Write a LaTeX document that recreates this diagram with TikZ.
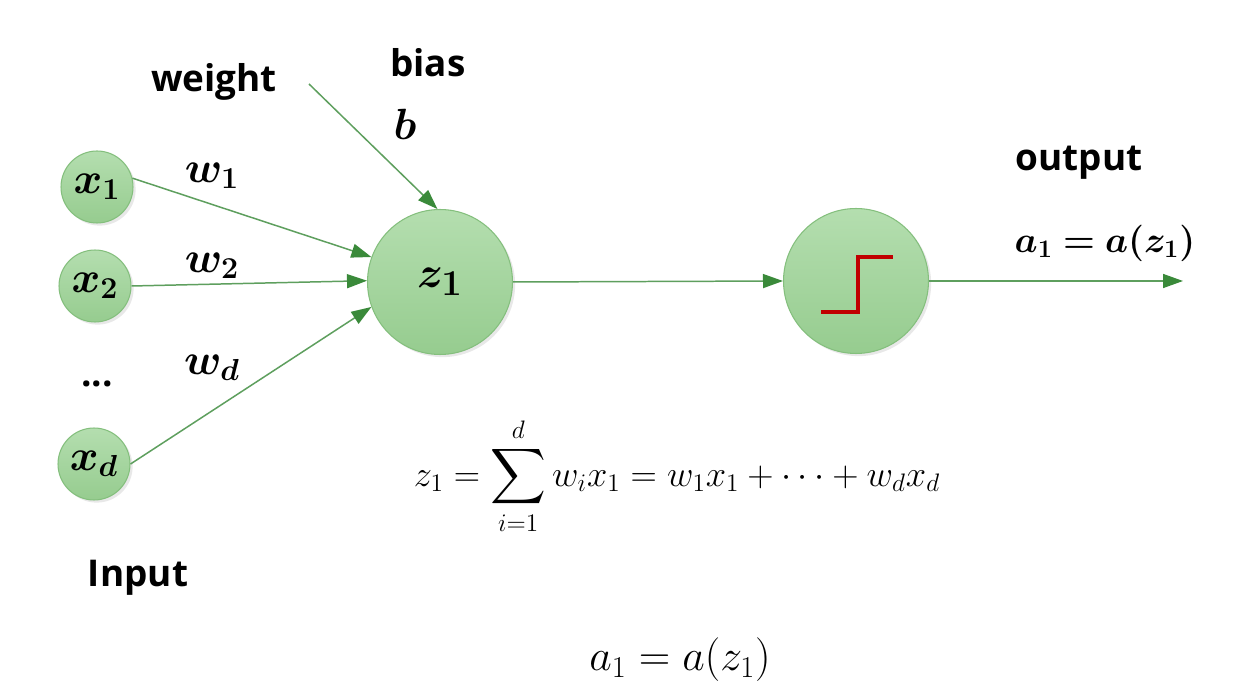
\documentclass[tikz,border=0pt]{standalone}
\usepackage{amsmath,amssymb}
\usepackage{bm}
\usepackage{fontspec}
\setmainfont{Open Sans}
\usepackage{tikz}
\usetikzlibrary{arrows.meta,positioning,shadows,calc}
\definecolor{celltop}   {HTML}{B4DEAF}
\definecolor{cellbot}   {HTML}{96CC8F}
\definecolor{cellline}  {HTML}{84BF7D}
\definecolor{synline}   {HTML}{5E9F5E}
\definecolor{syntip}    {HTML}{3A8A3A}
\definecolor{stepred}   {HTML}{C00000}
\tikzset{
  inputcell/.style ={circle, draw=cellline, line width=0.6pt,
                     top color=celltop, bottom color=cellbot,
                     minimum size=1.44cm, inner sep=0pt,
                     drop shadow={shadow xshift=1.5pt, shadow yshift=-1.5pt, opacity=0.18},
                     font=\fontsize{23}{25}\selectfont},
  bigcell/.style   ={inputcell, minimum size=2.9cm, font=\fontsize{28}{30}\selectfont},
  synarr/.style    ={-{Triangle[length=0.4cm,width=0.28cm,color=syntip]},
                     line width=0.85pt, color=synline},
  lbl/.style       ={font=\fontsize{21}{24}\selectfont\bfseries},
  mathlbl/.style   ={font=\fontsize{23}{25}\selectfont},
  formula/.style   ={font=\fontsize{22}{24}\selectfont},
}
\begin{document}
\begin{tikzpicture}[x=0.02cm,y=-0.02cm]
    \useasboundingbox[fill=white] (0,0) rectangle (1241,695);

    % input cells
    \node[inputcell] (x1) at (97,187) {$\bm{x_1}$};
    \node[inputcell] (x2) at (95,286) {$\bm{x_2}$};
    \node[inputcell] (xd) at (94,464) {$\bm{x_d}$};
    \node[lbl]       (dots) at (97,384) {...};

    % summation and activation cells
    \node[bigcell]   (z1)  at (440,282) {$\bm{z_1}$};
    \node[bigcell]   (act) at (856,281) {};
    \draw[stepred,line width=2.3pt]
      ($(act)+(-35,31)$) -- ($(act)+(2,31)$) -- ($(act)+(2,-24)$) -- ($(act)+(37,-24)$);

    % weights
    \node[mathlbl] (w1) at (212,176) {$\bm{w_1}$};
    \node[mathlbl] (w2) at (212,266) {$\bm{w_2}$};
    \node[mathlbl] (wd) at (212,368) {$\bm{w_d}$};

    \draw[synarr] (x1.14)   -- (z1.160);
    \draw[synarr] (x2.east) -- (z1.179);
    \draw[synarr] (xd.east) -- (z1.200);

    % bias
    \node[lbl]     (bias) at (428,63)  {bias};
    \node[mathlbl] (bb)   at (405,124) {$\bm{b}$};
    \coordinate    (bstart) at (309,84);
    \draw[synarr] (bstart) -- (z1.92);

    \node[lbl] (weight) at (214,82) {weight};

    % output
    \draw[synarr] (z1.east) -- (act.west);
    \coordinate (out) at (1183,281);
    \draw[synarr] (act.east) -- (out);
    \node[lbl]     (outlbl) at (1079,163) {output};
    \node[mathlbl,font=\fontsize{21}{23}\selectfont] (aout) at (1105,243) {$\bm{a_1 = a(z_1)}$};

    \node[lbl] (input) at (138,578) {Input};

    % formulas
    \node[formula] (sumeq) at (677,476)
      {$\displaystyle z_1 = \sum_{i=1}^{d} w_i x_1 = w_1 x_1 + \cdots + w_d x_d$};
    \node[formula,font=\fontsize{23}{25}\selectfont] (acteq) at (680,660) {$a_1 = a(z_1)$};
\end{tikzpicture}
\end{document}
